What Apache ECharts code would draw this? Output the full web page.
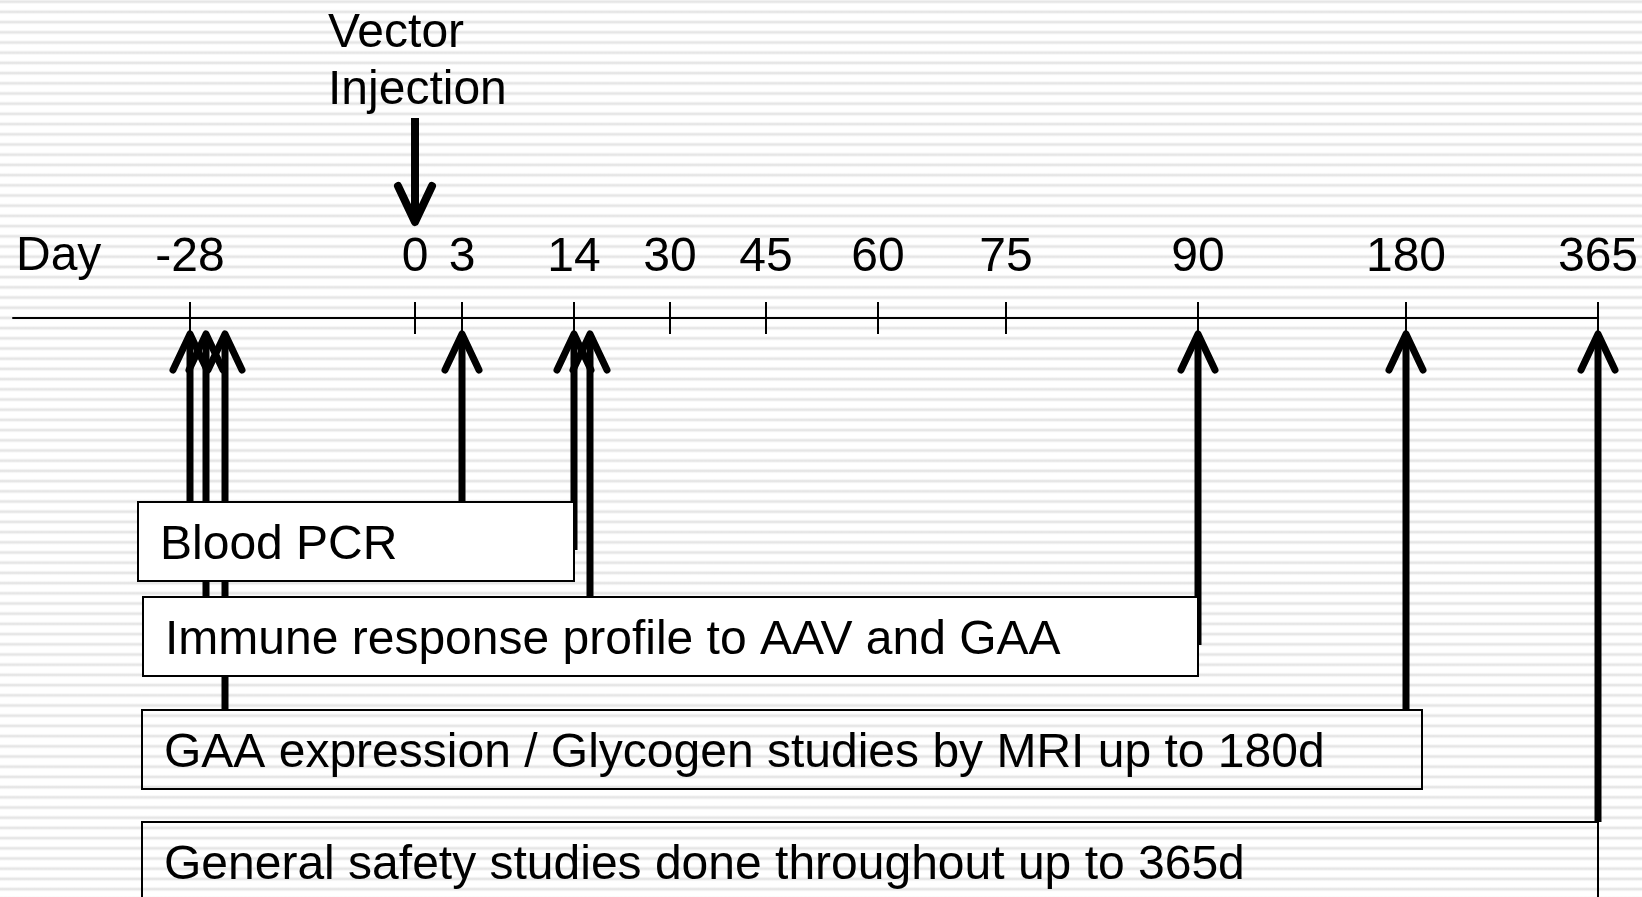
<!DOCTYPE html>
<html>
<head>
<meta charset="utf-8">
<script src="https://cdn.jsdelivr.net/npm/echarts@6/dist/echarts.min.js"></script>
<style>
html, body { margin: 0; padding: 0; width: 1642px; height: 897px; overflow: hidden; }
body {
  background-color: #fff;
  background-image: repeating-linear-gradient(to bottom, #fff 0px, #fff 4px, #ececec 5.2px, #e0e0e0 6.2px, #ececec 7.2px, #fff 8.4px, #fff 10.2px);
  background-position: 0 -4.5px;
}
#chart { width: 1642px; height: 897px; }
</style>
</head>
<body>
<div id="chart"></div>
<script>
// ---------------- DATA ----------------
const axisName = 'Day';
const dayTicks = [-28, 0, 3, 14, 30, 45, 60, 75, 90, 180, 365];
// schematic (non-linear) spacing of each day tick along the ruler
const rulerPos = [177, 402, 449, 561, 657, 753, 865, 993, 1185, 1393, 1585];
const injectionDay = 0;
const injectionLabel = 'Vector\nInjection';
const studyNames = [
  'Blood PCR',
  'Immune response profile to AAV and GAA',
  'GAA expression / Glycogen studies by MRI up to 180d',
  'General safety studies done throughout up to 365d'
];
const studyStartDays = [-28, -28, -28, -28];
const studyEndDays = [14, 90, 180, 365];
const bloodPcrDays = [-28, 3, 14];
const immuneDays = [-28, 14, 90];
const gaaMriDays = [-28, 180];
const safetyDays = [365];
const studyDays = [bloodPcrDays, immuneDays, gaaMriDays, safetyDays];

// ---------------- LAYOUT / STYLE ----------------
const FONT = "'Liberation Sans', Arial, Helvetica, sans-serif";
const FS = 48;
const RULER_Y = 318, TICK_HALF = 16, CANVAS_H = 897;
const rowTop = [184, 279, 392, 504];     // relative to ruler line (px units of y axis)
const rowHeight = 79;
const boxLeftPad = [-52, -47, -48, -48];
const boxRightPad = [0, 0, 16, 0];
const boxFill = ['#fff', '#fff', null, null];
const laneOffset = [0, 16, 35];
const TIP_REL = 16, HEAD_LEN = 36, HEAD_HALF = 17;

function dayToRuler(d) { return rulerPos[dayTicks.indexOf(d)]; }
function rulerToLabel(v) {
  const val = (v && typeof v === 'object') ? v.value : +v;
  let best = 0;
  for (let i = 1; i < rulerPos.length; i++) {
    if (Math.abs(rulerPos[i] - val) < Math.abs(rulerPos[best] - val)) best = i;
  }
  return String(dayTicks[best]);
}

// arrows built from the study day lists
const arrowData = [];
const usedLanes = {};
studyDays.forEach((days, s) => {
  days.forEach(d => {
    const lane = usedLanes[d] || 0;
    usedLanes[d] = lane + 1;
    const atEdge = d === studyEndDays[s] && boxFill[s] && boxRightPad[s] === 0;
    const endRel = atEdge ? rowTop[s] + 48 : rowTop[s];
    arrowData.push([dayToRuler(d), lane, s, endRel]);
  });
});
const boxData = studyNames.map((n, s) => [dayToRuler(studyStartDays[s]), dayToRuler(studyEndDays[s]), s]);

function renderArrow(params, api) {
  const rx = api.value(0), lane = api.value(1), endRel = api.value(3);
  const tip = api.coord([rx, TIP_REL]);
  const x = tip[0] + laneOffset[lane];
  const yTip = tip[1];
  const yEnd = api.coord([rx, endRel])[1];
  const yHead = api.coord([rx, TIP_REL + HEAD_LEN])[1];
  return {
    type: 'group',
    children: [
      { type: 'line', shape: { x1: x, y1: yTip, x2: x, y2: yEnd }, style: { stroke: '#000', lineWidth: 7, lineCap: 'butt' } },
      { type: 'polyline', shape: { points: [[x - HEAD_HALF, yHead], [x, yTip], [x + HEAD_HALF, yHead]] },
        style: { stroke: '#000', fill: 'none', lineWidth: 7, lineCap: 'round', lineJoin: 'round' } }
    ]
  };
}

function renderBox(params, api) {
  const s = api.value(2);
  const l = api.coord([api.value(0), rowTop[s]]);
  const r = api.coord([api.value(1), rowTop[s] + rowHeight]);
  const x0 = l[0] + boxLeftPad[s], x1 = r[0] + boxRightPad[s];
  return {
    type: 'group',
    children: [
      { type: 'rect', shape: { x: x0, y: l[1], width: x1 - x0, height: r[1] - l[1] },
        style: { fill: boxFill[s] || 'none', stroke: '#000', lineWidth: 2 } },
      { type: 'text', x: x0 + 22, y: (l[1] + r[1]) / 2 + 4,
        style: { text: studyNames[s], fontSize: FS, fontFamily: FONT, fill: '#000', align: 'left', verticalAlign: 'middle' } }
    ]
  };
}

function renderInjection(params, api) {
  const p = api.coord([api.value(0), -200]);
  const x = p[0];
  const yTop = p[1];
  const yTip = api.coord([api.value(0), -96])[1];
  const yHead = api.coord([api.value(0), -132])[1];
  const yText = api.coord([api.value(0), -256])[1];
  return {
    type: 'group',
    children: [
      { type: 'line', shape: { x1: x, y1: yTop, x2: x, y2: yTip }, style: { stroke: '#000', lineWidth: 8, lineCap: 'butt' } },
      { type: 'polyline', shape: { points: [[x - HEAD_HALF, yHead], [x, yTip], [x + HEAD_HALF, yHead]] },
        style: { stroke: '#000', fill: 'none', lineWidth: 8, lineCap: 'round', lineJoin: 'round' } },
      { type: 'text', x: x - 87, y: yText,
        style: { text: injectionLabel, fontSize: FS, lineHeight: 57, fontFamily: FONT, fill: '#000', align: 'left', verticalAlign: 'middle' } }
    ]
  };
}

const RULER_MAX = rulerPos[rulerPos.length - 1];
const chart = echarts.init(document.getElementById('chart'), null, { renderer: 'canvas' });
chart.setOption({
  backgroundColor: 'transparent',
  animation: false,
  grid: [
    // main grid: its top edge sits at the lower end of the ruler ticks
    { left: 13, right: 44, top: RULER_Y + TICK_HALF, bottom: 0, containLabel: false, outerBoundsMode: 'none' },
    // helper grid whose bottom edge is the ruler line
    { left: 13, right: 44, top: 0, height: RULER_Y, containLabel: false, outerBoundsMode: 'none' }
  ],
  xAxis: [
    {
      type: 'value', gridIndex: 0, position: 'top', min: 0, max: RULER_MAX,
      axisLine: { show: false, onZero: false },
      axisTick: { show: true, inside: false, length: 2 * TICK_HALF, customValues: rulerPos, lineStyle: { color: '#000', width: 2 } },
      axisLabel: {
        show: true, customValues: rulerPos, margin: 60 + TICK_HALF,
        formatter: rulerToLabel,
        color: '#000', fontSize: FS, fontFamily: FONT, verticalAlign: 'middle', hideOverlap: false
      },
      splitLine: { show: false }
    },
    {
      type: 'value', gridIndex: 1, position: 'bottom', min: 0, max: RULER_MAX,
      axisLine: { show: true, onZero: false, lineStyle: { color: '#000', width: 2 } },
      axisTick: { show: false },
      axisLabel: { show: false },
      splitLine: { show: false }
    }
  ],
  yAxis: [
    { type: 'value', gridIndex: 0, min: TICK_HALF, max: CANVAS_H - RULER_Y, inverse: true, show: false, splitLine: { show: false } },
    { type: 'value', gridIndex: 1, min: 0, max: 1, show: false, splitLine: { show: false } }
  ],
  graphic: [
    { type: 'text', x: 16, y: 256.5, style: { text: axisName, fontSize: FS, fontFamily: FONT, fill: '#000', align: 'left', verticalAlign: 'middle' } }
  ],
  series: [
    { type: 'custom', name: 'arrows', renderItem: renderArrow, data: arrowData, encode: { x: 0, y: 3 }, clip: false, z: 2 },
    { type: 'custom', name: 'studies', renderItem: renderBox, data: boxData, encode: { x: [0, 1], y: 2 }, clip: false, z: 3 },
    { type: 'custom', name: 'injection', renderItem: renderInjection, data: [[dayToRuler(injectionDay), 0]], encode: { x: 0, y: 1 }, clip: false, z: 3 },
    { type: 'line', name: 'ruler', xAxisIndex: 1, yAxisIndex: 1, data: [], silent: true }
  ]
});
</script>
</body>
</html>
